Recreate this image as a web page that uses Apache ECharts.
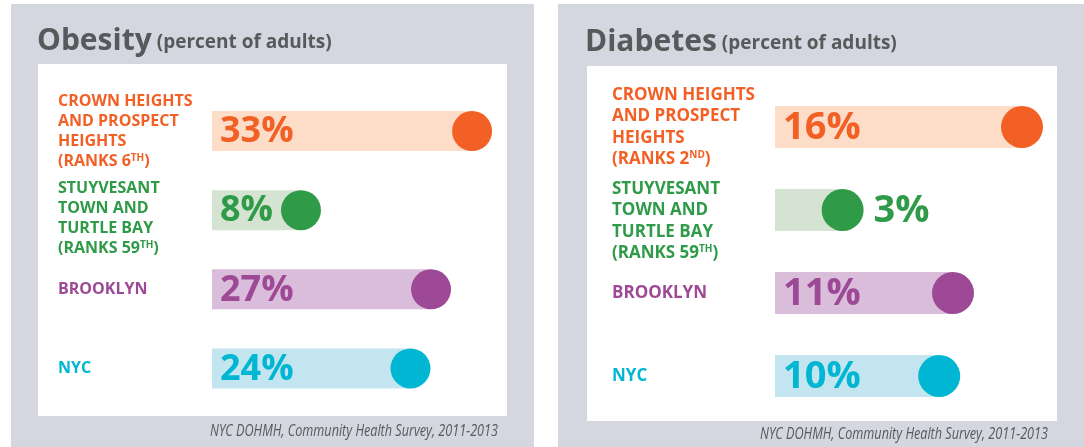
<!DOCTYPE html>
<html>
<head>
<meta charset="utf-8">
<script src="https://cdn.jsdelivr.net/npm/echarts@6/dist/echarts.min.js"></script>
<style>
  html, body { margin: 0; padding: 0; background: #fff; }
  #chart { width: 1084px; height: 447px; }
</style>
</head>
<body>
<div id="chart"></div>
<script>
// 数据
const areaNames = [
  'CROWN HEIGHTS\nAND PROSPECT\nHEIGHTS',
  'STUYVESANT\nTOWN AND\nTURTLE BAY',
  'BROOKLYN',
  'NYC'
]
const obesityRanks = ['6TH', '59TH', '', '']
const diabetesRanks = ['2ND', '59TH', '', '']
const obesityValues = [33, 8, 27, 24]
const diabetesValues = [16, 3, 11, 10]
const sourceText = 'NYC DOHMH, Community Health Survey, 2011-2013'

// 颜色
const darkColors = ['#f26026', '#2f9a47', '#9d4996', '#00b6d3']
const lightColors = ['#fddcc8', '#d5e3d3', '#d9bdda', '#c2e5ef']
const greyText = '#58595b'
const panelGrey = '#d4d7df'
const font = "'Open Sans', sans-serif"

// 标签：地区名 + 排名（上标）；第二行标签前加一个空行，使其整体略下移
function makeLabelFormatter(ranks) {
  return function (value, index) {
    const lines = value.split('\n').map(l => '{n|' + l + '}')
    const rank = ranks[index]
    if (rank) {
      const m = rank.match(/^(\d+)(\D+)$/)
      lines.push('{n|(RANKS ' + m[1] + '}{s|' + m[2] + '}{n|)}')
    }
    if (index === 1) lines.unshift('{e| }')
    return lines.join('\n')
  }
}

function labelRich(size, lh, shift) {
  return {
    n: { fontSize: size, lineHeight: lh, fontWeight: 'bold', fontFamily: font },
    e: { fontSize: 4, lineHeight: shift * 2, fontFamily: font },
    s: { fontSize: Math.round(size * 0.6), lineHeight: lh, fontWeight: 'bold', fontFamily: font, verticalAlign: 'top', padding: [2, 0, 0, 0] }
  }
}

// 胶囊条 + 圆点 + 数值
function makeRenderItem(barH, r, valueSize) {
  return function (params, api) {
    const cs = params.coordSys
    const idx = api.value(1)
    const end = api.coord([api.value(0), idx])
    const len = end[0] - cs.x
    const outside = len - r < 55
    return {
      type: 'group',
      children: [
        {
          type: 'rect',
          shape: { x: cs.x, y: end[1] - barH / 2, width: len, height: barH },
          style: { fill: lightColors[idx] }
        },
        {
          type: 'circle',
          shape: { cx: end[0], cy: end[1], r: r },
          style: { fill: darkColors[idx] }
        },
        {
          type: 'text',
          style: {
            text: api.value(0) + '%',
            x: outside ? end[0] + r + 10 : cs.x + 8,
            y: end[1] + 1,
            fill: darkColors[idx],
            fontSize: valueSize,
            fontWeight: 'bold',
            fontFamily: font,
            align: 'left',
            verticalAlign: 'middle'
          }
        }
      ]
    }
  }
}

const titleRich = {
  a: { fontSize: 30, fontWeight: 'bold', color: greyText, fontFamily: font, lineHeight: 44 },
  b: { fontSize: 19, fontWeight: 'bold', color: greyText, fontFamily: font, lineHeight: 44, padding: [4, 0, 0, 0] }
}

const chart = echarts.init(document.getElementById('chart'))

const option = {
  animation: false,
  backgroundColor: '#fff',
  graphic: [
    { type: 'rect', shape: { x: 11, y: 4, width: 523, height: 450 }, style: { fill: panelGrey }, z: -10 },
    { type: 'rect', shape: { x: 558, y: 4, width: 530, height: 450 }, style: { fill: panelGrey }, z: -10 },
    { type: 'rect', shape: { x: 38, y: 64, width: 469, height: 352 }, style: { fill: '#fff' }, z: -9 },
    { type: 'rect', shape: { x: 587, y: 66, width: 470, height: 355 }, style: { fill: '#fff' }, z: -9 },
    // 数据来源（压窄的斜体）
    {
      type: 'text', x: 498, y: 431, scaleX: 0.79,
      style: { text: sourceText, align: 'right', verticalAlign: 'middle', fill: greyText, fontSize: 16, fontStyle: 'italic', fontFamily: font }
    },
    {
      type: 'text', x: 1048, y: 434, scaleX: 0.79,
      style: { text: sourceText, align: 'right', verticalAlign: 'middle', fill: greyText, fontSize: 16, fontStyle: 'italic', fontFamily: font }
    }
  ],
  title: [
    { text: '{a|Obesity} {b|(percent of adults)}', left: 37, top: 19, padding: 0, textStyle: { rich: titleRich } },
    { text: '{a|Diabetes} {b|(percent of adults)}', left: 585, top: 20, padding: 0, textStyle: { rich: titleRich } }
  ],
  grid: [
    { left: 212, top: 91.5, width: 308, height: 316.5 },
    { left: 775, top: 85.5, width: 274.6, height: 332 }
  ],
  xAxis: [
    { type: 'value', gridIndex: 0, min: -5, max: 40, show: false },
    { type: 'value', gridIndex: 1, min: -1.9, max: 18, show: false }
  ],
  yAxis: [
    {
      type: 'category', gridIndex: 0, inverse: true, data: areaNames,
      axisLine: { show: false }, axisTick: { show: false }, splitLine: { show: false },
      axisLabel: {
        interval: 0, hideOverlap: false,
        align: 'left', margin: 154,
        color: (v, i) => darkColors[i],
        formatter: makeLabelFormatter(obesityRanks),
        rich: labelRich(16, 20, 8)
      }
    },
    {
      type: 'category', gridIndex: 1, inverse: true, data: areaNames,
      axisLine: { show: false }, axisTick: { show: false }, splitLine: { show: false },
      axisLabel: {
        interval: 0, hideOverlap: false,
        align: 'left', margin: 163,
        color: (v, i) => darkColors[i],
        formatter: makeLabelFormatter(diabetesRanks),
        rich: labelRich(17, 21.5, 11)
      }
    }
  ],
  series: [
    {
      name: 'Obesity', type: 'custom', xAxisIndex: 0, yAxisIndex: 0,
      renderItem: makeRenderItem(40, 20, 36),
      encode: { x: 0, y: 1 },
      data: obesityValues.map((v, i) => [v, i])
    },
    {
      name: 'Diabetes', type: 'custom', xAxisIndex: 1, yAxisIndex: 1,
      renderItem: makeRenderItem(42, 21, 38),
      encode: { x: 0, y: 1 },
      data: diabetesValues.map((v, i) => [v, i])
    }
  ]
}

chart.setOption(option)
</script>
</body>
</html>
